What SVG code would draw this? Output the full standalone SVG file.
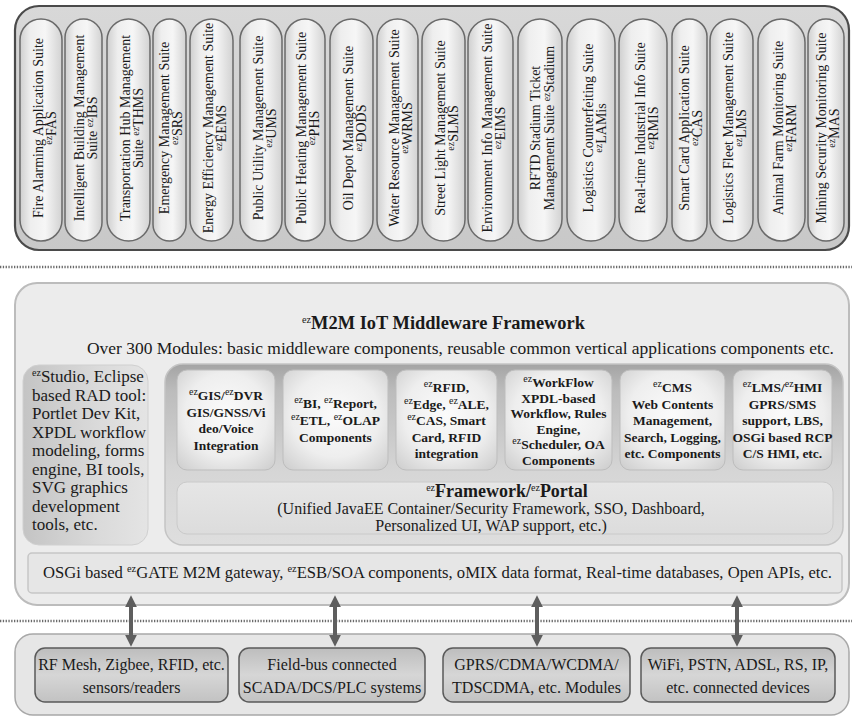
<svg xmlns="http://www.w3.org/2000/svg" width="852" height="719" viewBox="0 0 852 719">
<defs>
<linearGradient id="gTop" x1="0" y1="0" x2="0" y2="1"><stop offset="0" stop-color="#d8d8d8"/><stop offset="1" stop-color="#c8c8c8"/></linearGradient>
<linearGradient id="gPill" x1="0" y1="0" x2="1" y2="0"><stop offset="0" stop-color="#cfcfcf"/><stop offset="0.25" stop-color="#eeeeee"/><stop offset="0.6" stop-color="#f6f6f6"/><stop offset="1" stop-color="#d2d2d2"/></linearGradient>
<linearGradient id="gLeft" x1="0" y1="0" x2="1" y2="0"><stop offset="0" stop-color="#c4c4c4"/><stop offset="0.6" stop-color="#dadada"/><stop offset="1" stop-color="#e4e4e4"/></linearGradient>
<linearGradient id="gPanel" x1="0" y1="0" x2="0" y2="1"><stop offset="0" stop-color="#a4a4a4"/><stop offset="0.15" stop-color="#bcbcbc"/><stop offset="0.6" stop-color="#d6d6d6"/><stop offset="1" stop-color="#dedede"/></linearGradient>
<radialGradient id="gComp" cx="0.5" cy="0.45" r="0.7"><stop offset="0" stop-color="#fbfbfb"/><stop offset="0.6" stop-color="#eeeeee"/><stop offset="1" stop-color="#d0d0d0"/></radialGradient>
<linearGradient id="gFw" x1="0" y1="0" x2="0" y2="1"><stop offset="0" stop-color="#e6e6e6"/><stop offset="1" stop-color="#dcdcdc"/></linearGradient>
<linearGradient id="gBot" x1="0" y1="0" x2="0" y2="1"><stop offset="0" stop-color="#bdbdbd"/><stop offset="0.5" stop-color="#d6d6d6"/><stop offset="1" stop-color="#c2c2c2"/></linearGradient>
<marker id="ah" viewBox="0 0 10 10" refX="1" refY="5" markerWidth="3" markerHeight="3" orient="auto-start-reverse"><path d="M0,0 L10,5 L0,10 z" fill="#5e5e5e"/></marker>
</defs>
<style>
text{font-family:"Liberation Serif","DejaVu Serif",serif;fill:#1a1a1a}
.pt{font-size:14px}
.ez{font-size:10px;font-weight:normal}
.pill{fill:url(#gPill);stroke:#6a6a6a;stroke-width:1.5}
.comp{fill:url(#gComp);stroke:#bdbdbd;stroke-width:1}
.ct{font-size:13.5px;font-weight:bold;text-anchor:middle}
.bt{font-size:16px;text-anchor:middle}
.bbox{fill:url(#gBot);stroke:#5a5a5a;stroke-width:1.5}
.dot{stroke:#6a6a6a;stroke-width:2.5;stroke-dasharray:1.3 1.5;fill:none}
.arr{stroke:#5e5e5e;stroke-width:4;fill:none;marker-start:url(#ah);marker-end:url(#ah)}
</style>

<g id="applications">
<rect x="15" y="6" width="834" height="244" rx="24" fill="url(#gTop)" stroke="#4a4a4a" stroke-width="2.2"/>
<g id="p1"><rect class="pill" x="20" y="19" width="42" height="222" rx="21"/><text class="pt" transform="translate(41,128) rotate(-90)" text-anchor="middle"><tspan x="0" y="1.5">Fire Alarming Application Suite</tspan><tspan x="0" y="14.5"><tspan class="ez" dy="-4">ez</tspan><tspan dy="4">FAS</tspan></tspan></text></g>
<g id="p2"><rect class="pill" x="65" y="19" width="37" height="222" rx="18.5"/><text class="pt" transform="translate(83.5,128) rotate(-90)" text-anchor="middle"><tspan x="0" y="0">Intelligent Building Management</tspan><tspan x="0" y="13">Suite <tspan class="ez" dy="-4">ez</tspan><tspan dy="4">IBS</tspan></tspan></text></g>
<g id="p3"><rect class="pill" x="107" y="19" width="43" height="222" rx="21.5"/><text class="pt" transform="translate(128.5,128) rotate(-90)" text-anchor="middle"><tspan x="0" y="1.5">Transportation Hub Management</tspan><tspan x="0" y="14.5">Suite <tspan class="ez" dy="-4">ez</tspan><tspan dy="4">THMS</tspan></tspan></text></g>
<g id="p4"><rect class="pill" x="153" y="19" width="33" height="222" rx="16.5"/><text class="pt" transform="translate(169.5,128) rotate(-90)" text-anchor="middle"><tspan x="0" y="-0.5">Emergency Management Suite</tspan><tspan x="0" y="12.5"><tspan class="ez" dy="-4">ez</tspan><tspan dy="4">SRS</tspan></tspan></text></g>
<g id="p5"><rect class="pill" x="190" y="19" width="43" height="222" rx="21.5"/><text class="pt" transform="translate(211.5,128) rotate(-90)" text-anchor="middle"><tspan x="0" y="1.5">Energy Efficiency Management Suite</tspan><tspan x="0" y="14.5"><tspan class="ez" dy="-4">ez</tspan><tspan dy="4">EEMS</tspan></tspan></text></g>
<g id="p6"><rect class="pill" x="240" y="19" width="42" height="222" rx="21"/><text class="pt" transform="translate(261,128) rotate(-90)" text-anchor="middle"><tspan x="0" y="1.5">Public Utility Management Suite</tspan><tspan x="0" y="14.5"><tspan class="ez" dy="-4">ez</tspan><tspan dy="4">UMS</tspan></tspan></text></g>
<g id="p7"><rect class="pill" x="285" y="19" width="40" height="222" rx="20"/><text class="pt" transform="translate(305,128) rotate(-90)" text-anchor="middle"><tspan x="0" y="1">Public Heating Management Suite</tspan><tspan x="0" y="14"><tspan class="ez" dy="-4">ez</tspan><tspan dy="4">PHS</tspan></tspan></text></g>
<g id="p8"><rect class="pill" x="330" y="19" width="43" height="222" rx="21.5"/><text class="pt" transform="translate(351.5,128) rotate(-90)" text-anchor="middle"><tspan x="0" y="1.5">Oil Depot Management Suite</tspan><tspan x="0" y="14.5"><tspan class="ez" dy="-4">ez</tspan><tspan dy="4">DODS</tspan></tspan></text></g>
<g id="p9"><rect class="pill" x="377" y="19" width="41" height="222" rx="20.5"/><text class="pt" transform="translate(397.5,128) rotate(-90)" text-anchor="middle"><tspan x="0" y="1">Water Resource Management Suite</tspan><tspan x="0" y="14"><tspan class="ez" dy="-4">ez</tspan><tspan dy="4">WRMS</tspan></tspan></text></g>
<g id="p10"><rect class="pill" x="422" y="19" width="43" height="222" rx="21.5"/><text class="pt" transform="translate(443.5,128) rotate(-90)" text-anchor="middle"><tspan x="0" y="1.5">Street Light Management Suite</tspan><tspan x="0" y="14.5"><tspan class="ez" dy="-4">ez</tspan><tspan dy="4">SLMS</tspan></tspan></text></g>
<g id="p11"><rect class="pill" x="468" y="19" width="45" height="222" rx="22.5"/><text class="pt" transform="translate(490.5,128) rotate(-90)" text-anchor="middle"><tspan x="0" y="1.5">Environment Info Management Suite</tspan><tspan x="0" y="14.5"><tspan class="ez" dy="-4">ez</tspan><tspan dy="4">EIMS</tspan></tspan></text></g>
<g id="p12"><rect class="pill" x="518" y="19" width="44" height="222" rx="22"/><text class="pt" transform="translate(540,128) rotate(-90)" text-anchor="middle"><tspan x="0" y="0">RFTD Stadium Ticket</tspan><tspan x="0" y="14">Management Suite <tspan class="ez" dy="-4">ez</tspan><tspan dy="4">Stadium</tspan></tspan></text></g>
<g id="p13"><rect class="pill" x="567" y="19" width="48" height="222" rx="24"/><text class="pt" transform="translate(591,128) rotate(-90)" text-anchor="middle"><tspan x="0" y="1.5">Logistics Counterfeiting Suite</tspan><tspan x="0" y="14.5"><tspan class="ez" dy="-4">ez</tspan><tspan dy="4">LAMis</tspan></tspan></text></g>
<g id="p14"><rect class="pill" x="619" y="19" width="48" height="222" rx="24"/><text class="pt" transform="translate(643,128) rotate(-90)" text-anchor="middle"><tspan x="0" y="1.5">Real-time Industrial Info Suite</tspan><tspan x="0" y="14.5"><tspan class="ez" dy="-4">ez</tspan><tspan dy="4">RMIS</tspan></tspan></text></g>
<g id="p15"><rect class="pill" x="672" y="19" width="35" height="222" rx="17.5"/><text class="pt" transform="translate(689.5,128) rotate(-90)" text-anchor="middle"><tspan x="0" y="-0.5">Smart Card Application Suite</tspan><tspan x="0" y="12.5"><tspan class="ez" dy="-4">ez</tspan><tspan dy="4">CAS</tspan></tspan></text></g>
<g id="p16"><rect class="pill" x="710" y="19" width="43" height="222" rx="21.5"/><text class="pt" transform="translate(731.5,128) rotate(-90)" text-anchor="middle"><tspan x="0" y="1.5">Logistics Fleet Management Suite</tspan><tspan x="0" y="14.5"><tspan class="ez" dy="-4">ez</tspan><tspan dy="4">LMS</tspan></tspan></text></g>
<g id="p17"><rect class="pill" x="758" y="19" width="47" height="222" rx="23.5"/><text class="pt" transform="translate(781.5,128) rotate(-90)" text-anchor="middle"><tspan x="0" y="1.5">Animal Farm Monitoring Suite</tspan><tspan x="0" y="14.5"><tspan class="ez" dy="-4">ez</tspan><tspan dy="4">FARM</tspan></tspan></text></g>
<g id="p18"><rect class="pill" x="808" y="19" width="36" height="222" rx="18"/><text class="pt" transform="translate(826,128) rotate(-90)" text-anchor="middle"><tspan x="0" y="0">Mining Security Monitoring Suite</tspan><tspan x="0" y="13"><tspan class="ez" dy="-4">ez</tspan><tspan dy="4">MAS</tspan></tspan></text></g>
</g>

<g id="separators">
<line class="dot" x1="0" y1="267" x2="852" y2="267"/>
<line class="dot" x1="0" y1="621" x2="852" y2="621"/>
</g>

<g id="middleware">
<rect x="15" y="283" width="834" height="322" rx="22" fill="#ececec" stroke="#bcbcbc" stroke-width="2"/>
<text x="302" y="329" font-size="18" font-weight="bold" textLength="283" lengthAdjust="spacingAndGlyphs"><tspan class="ez" dy="-6">ez</tspan><tspan dy="6">M2M IoT Middleware Framework</tspan></text>
<text x="87" y="354" font-size="17" textLength="747" lengthAdjust="spacingAndGlyphs">Over 300 Modules: basic middleware components, reusable common vertical applications components etc.</text>
</g>

<g id="studio">
<rect x="23" y="365" width="125" height="180" rx="16" fill="url(#gLeft)" stroke="#d0d0d0" stroke-width="1"/>
<text font-size="17">
<tspan x="32" y="382"><tspan class="ez" dy="-6">ez</tspan><tspan dy="6">Studio, Eclipse</tspan></tspan>
<tspan x="32" y="400.5">based RAD tool:</tspan>
<tspan x="32" y="419">Portlet Dev Kit,</tspan>
<tspan x="32" y="437.5">XPDL workflow</tspan>
<tspan x="32" y="456">modeling, forms</tspan>
<tspan x="32" y="474.5">engine, BI tools,</tspan>
<tspan x="32" y="493">SVG graphics</tspan>
<tspan x="32" y="511.5">development</tspan>
<tspan x="32" y="530">tools, etc.</tspan>
</text>
</g>

<g id="panel">
<rect x="165" y="364" width="678" height="181" rx="18" fill="url(#gPanel)" stroke="#c4c4c4" stroke-width="1.5"/>
</g>

<g id="c1"><rect class="comp" x="177" y="370" width="98" height="100" rx="10"/>
<text class="ct"><tspan x="226" y="400"><tspan class="ez" dy="-5">ez</tspan><tspan dy="5">GIS/</tspan><tspan class="ez" dy="-5">ez</tspan><tspan dy="5">DVR</tspan></tspan><tspan x="226" y="416.5">GIS/GNSS/Vi</tspan><tspan x="226" y="433">deo/Voice</tspan><tspan x="226" y="449.5">Integration</tspan></text></g>
<g id="c2"><rect class="comp" x="283" y="370" width="105" height="100" rx="10"/>
<text class="ct"><tspan x="335.5" y="408"><tspan class="ez" dy="-5">ez</tspan><tspan dy="5">BI, </tspan><tspan class="ez" dy="-5">ez</tspan><tspan dy="5">Report,</tspan></tspan><tspan x="335.5" y="425"><tspan class="ez" dy="-5">ez</tspan><tspan dy="5">ETL, </tspan><tspan class="ez" dy="-5">ez</tspan><tspan dy="5">OLAP</tspan></tspan><tspan x="335.5" y="442">Components</tspan></text></g>
<g id="c3"><rect class="comp" x="396" y="370" width="101" height="100" rx="10"/>
<text class="ct"><tspan x="446.5" y="392"><tspan class="ez" dy="-5">ez</tspan><tspan dy="5">RFID,</tspan></tspan><tspan x="446.5" y="408.5"><tspan class="ez" dy="-5">ez</tspan><tspan dy="5">Edge, </tspan><tspan class="ez" dy="-5">ez</tspan><tspan dy="5">ALE,</tspan></tspan><tspan x="446.5" y="425"><tspan class="ez" dy="-5">ez</tspan><tspan dy="5">CAS, Smart</tspan></tspan><tspan x="446.5" y="441.5">Card, RFID</tspan><tspan x="446.5" y="458">integration</tspan></text></g>
<g id="c4"><rect class="comp" x="505" y="370" width="107" height="100" rx="10"/>
<text class="ct"><tspan x="558.5" y="387"><tspan class="ez" dy="-5">ez</tspan><tspan dy="5">WorkFlow</tspan></tspan><tspan x="558.5" y="402.5">XPDL-based</tspan><tspan x="558.5" y="418">Workflow, Rules</tspan><tspan x="558.5" y="433.5">Engine,</tspan><tspan x="558.5" y="449"><tspan class="ez" dy="-5">ez</tspan><tspan dy="5">Scheduler, OA</tspan></tspan><tspan x="558.5" y="464.5">Components</tspan></text></g>
<g id="c5"><rect class="comp" x="620" y="370" width="105" height="100" rx="10"/>
<text class="ct"><tspan x="672.5" y="392"><tspan class="ez" dy="-5">ez</tspan><tspan dy="5">CMS</tspan></tspan><tspan x="672.5" y="408.5">Web Contents</tspan><tspan x="672.5" y="425">Management,</tspan><tspan x="672.5" y="441.5">Search, Logging,</tspan><tspan x="672.5" y="458">etc. Components</tspan></text></g>
<g id="c6"><rect class="comp" x="733" y="370" width="99" height="100" rx="10"/>
<text class="ct"><tspan x="782.5" y="392"><tspan class="ez" dy="-5">ez</tspan><tspan dy="5">LMS/</tspan><tspan class="ez" dy="-5">ez</tspan><tspan dy="5">HMI</tspan></tspan><tspan x="782.5" y="408.5">GPRS/SMS</tspan><tspan x="782.5" y="425">support, LBS,</tspan><tspan x="782.5" y="441.5">OSGi based RCP</tspan><tspan x="782.5" y="458">C/S HMI, etc.</tspan></text></g>

<g id="framework">
<rect x="177" y="482" width="656" height="52" rx="10" fill="url(#gFw)" stroke="#cacaca" stroke-width="1"/>
<text text-anchor="middle" font-size="18" font-weight="bold"><tspan x="507" y="497"><tspan class="ez" dy="-6" font-size="12">ez</tspan><tspan dy="6">Framework/</tspan><tspan class="ez" dy="-6" font-size="12">ez</tspan><tspan dy="6">Portal</tspan></tspan></text>
<text text-anchor="middle" font-size="16"><tspan x="491" y="514">(Unified JavaEE Container/Security Framework, SSO, Dashboard,</tspan><tspan x="491" y="531">Personalized UI, WAP support, etc.)</tspan></text>
</g>

<g id="gateway">
<rect x="28" y="553" width="814" height="40" rx="4" fill="#e6e6e6" stroke="#c6c6c6" stroke-width="1.5"/>
<text x="43" y="578" font-size="16" textLength="789" lengthAdjust="spacingAndGlyphs">OSGi based <tspan class="ez" dy="-6">ez</tspan><tspan dy="6">GATE M2M gateway, </tspan><tspan class="ez" dy="-6">ez</tspan><tspan dy="6">ESB/SOA components, oMIX data format, Real-time databases, Open APIs, etc.</tspan></text>
</g>

<g id="devices">
<rect x="15" y="634" width="834" height="81" rx="18" fill="#e6e6e6" stroke="#a8a8a8" stroke-width="1.5"/>
</g>
<g id="d1"><rect class="bbox" x="35" y="648" width="193" height="54" rx="10"/><text class="bt"><tspan x="131.5" y="670">RF Mesh, Zigbee, RFID, etc.</tspan><tspan x="131.5" y="693">sensors/readers</tspan></text></g>
<g id="d2"><rect class="bbox" x="239" y="648" width="186" height="54" rx="10"/><text class="bt"><tspan x="332" y="670">Field-bus connected</tspan><tspan x="332" y="693">SCADA/DCS/PLC systems</tspan></text></g>
<g id="d3"><rect class="bbox" x="443" y="648" width="187" height="54" rx="10"/><text class="bt"><tspan x="536.5" y="670">GPRS/CDMA/WCDMA/</tspan><tspan x="536.5" y="693">TDSCDMA, etc. Modules</tspan></text></g>
<g id="d4"><rect class="bbox" x="641" y="648" width="194" height="54" rx="10"/><text class="bt"><tspan x="738" y="670">WiFi, PSTN, ADSL, RS, IP,</tspan><tspan x="738" y="693">etc. connected devices</tspan></text></g>

<g id="connectors">
<line class="arr" x1="131" y1="606" x2="131" y2="636"/>
<line class="arr" x1="335" y1="606" x2="335" y2="636"/>
<line class="arr" x1="537" y1="606" x2="537" y2="636"/>
<line class="arr" x1="737" y1="606" x2="737" y2="636"/>
</g>
</svg>
